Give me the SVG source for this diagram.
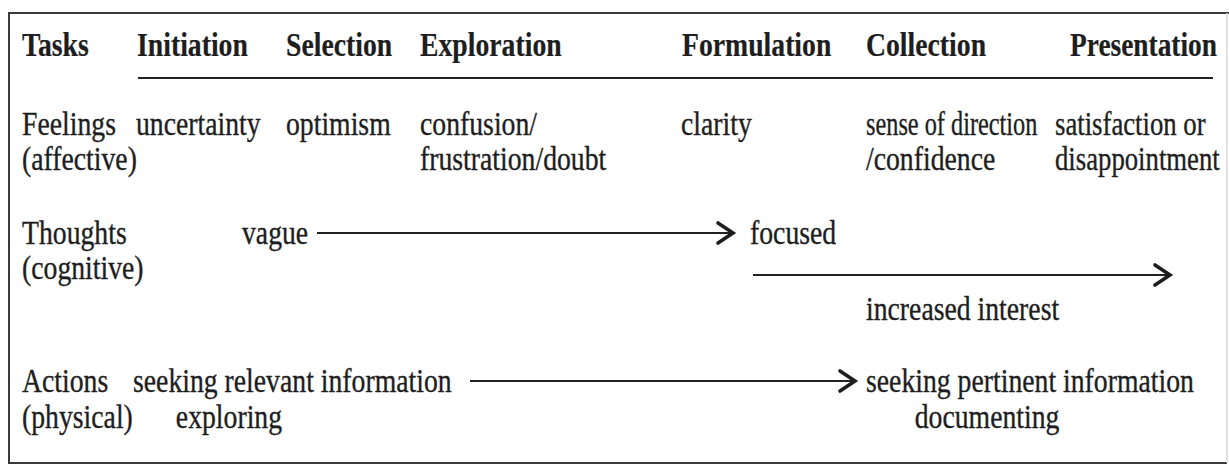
<svg xmlns="http://www.w3.org/2000/svg" width="1229" height="474" viewBox="0 0 1229 474">
  <style>
    text { font-family: "Liberation Serif", "Times New Roman", serif; font-size: 33px; fill: #1e1e1e; stroke: #1e1e1e; stroke-width: 0.35; }
    .b { font-weight: bold; stroke-width: 0.2; }
    .frame { fill: none; stroke: #3a3a3a; stroke-width: 2; }
    .frame-r { fill: none; stroke: #d8d8d8; stroke-width: 1.5; }
    .rule { stroke: #222; stroke-width: 2; }
    .conn { fill: none; stroke: #222; stroke-width: 2; }
    .head { fill: none; stroke: #1e1e1e; stroke-width: 3.6; stroke-linecap: round; stroke-linejoin: miter; }
  </style>
  <defs>
    <marker id="chev" markerUnits="userSpaceOnUse" markerWidth="24" markerHeight="28" refX="18" refY="13" orient="auto" viewBox="0 0 24 28">
      <path class="head" d="M3,3 L18,13 L3,23"/>
    </marker>
  </defs>
  <rect width="1229" height="474" fill="#fff"/>
  <path class="frame" d="M1229,13 L9,13 L9,463 L1227,463"/>
  <line class="frame-r" x1="1227" y1="13" x2="1227" y2="463"/>
  <line class="rule" x1="138" y1="78" x2="1213" y2="78"/>

  <g id="hdr-tasks" transform="translate(22,56) scale(0.84 1)"><text class="b">Tasks</text></g>
  <g id="hdr-initiation" transform="translate(137,56) scale(0.84 1)"><text class="b">Initiation</text></g>
  <g id="hdr-selection" transform="translate(286,56) scale(0.84 1)"><text class="b">Selection</text></g>
  <g id="hdr-exploration" transform="translate(420,56) scale(0.84 1)"><text class="b">Exploration</text></g>
  <g id="hdr-formulation" transform="translate(682,56) scale(0.84 1)"><text class="b">Formulation</text></g>
  <g id="hdr-collection" transform="translate(866,56) scale(0.84 1)"><text class="b">Collection</text></g>
  <g id="hdr-presentation" transform="translate(1070,56) scale(0.83 1)"><text class="b">Presentation</text></g>

  <g id="row-feelings" transform="translate(22,135) scale(0.84 1)"><text>Feelings</text><text y="35">(affective)</text></g>
  <g id="f-uncertainty" transform="translate(136,135) scale(0.84 1)"><text>uncertainty</text></g>
  <g id="f-optimism" transform="translate(286,135) scale(0.84 1)"><text>optimism</text></g>
  <g id="f-confusion" transform="translate(420,135) scale(0.84 1)"><text>confusion/</text><text y="35">frustration/doubt</text></g>
  <g id="f-clarity" transform="translate(681,135) scale(0.84 1)"><text>clarity</text></g>
  <g id="f-direction" transform="translate(866,135) scale(0.84 1)"><text textLength="204" lengthAdjust="spacingAndGlyphs">sense of direction</text><text y="35">/confidence</text></g>
  <g id="f-satisfaction" transform="translate(1055,135) scale(0.81 1)"><text>satisfaction or</text><text y="35">disappointment</text></g>

  <g id="row-thoughts" transform="translate(22,244) scale(0.84 1)"><text>Thoughts</text><text y="35">(cognitive)</text></g>
  <g id="t-vague" transform="translate(242,244) scale(0.84 1)"><text>vague</text></g>
  <g id="t-focused" transform="translate(750,244) scale(0.84 1)"><text>focused</text></g>
  <g id="t-interest" transform="translate(866,320) scale(0.84 1)"><text>increased interest</text></g>

  <g id="row-actions" transform="translate(22,392) scale(0.84 1)"><text>Actions</text><text y="36">(physical)</text></g>
  <g id="a-relevant" transform="translate(133,392) scale(0.84 1)"><text>seeking relevant information</text><text x="51" y="36">exploring</text></g>
  <g id="a-pertinent" transform="translate(866,392) scale(0.84 1)"><text>seeking pertinent information</text><text x="58" y="36">documenting</text></g>

  <g id="connectors">
    <line class="conn" x1="317" y1="233" x2="733" y2="233" marker-end="url(#chev)"/>
    <line class="conn" x1="753" y1="275" x2="1170" y2="275" marker-end="url(#chev)"/>
    <line class="conn" x1="470" y1="381" x2="855" y2="381" marker-end="url(#chev)"/>
  </g>
</svg>
